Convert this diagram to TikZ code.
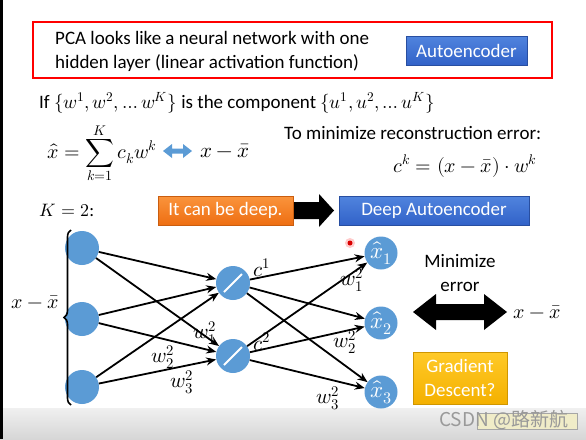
\documentclass[tikz,border=0pt]{standalone}
\usepackage{fontspec}
\usepackage{unicode-math}
\setmainfont{Carlito}
\setmathfont{Latin Modern Math}
\newfontfamily\cjk{Noto Sans CJK SC}
\usetikzlibrary{arrows.meta,decorations.pathreplacing}
\definecolor{nblue}{RGB}{91,155,213}
\definecolor{bxtop}{RGB}{80,132,222}
\definecolor{bxbot}{RGB}{50,98,200}
\definecolor{ortop}{RGB}{250,148,60}
\definecolor{orbot}{RGB}{238,110,18}
\definecolor{gdtop}{RGB}{255,202,40}
\definecolor{gdbot}{RGB}{244,176,0}
\newcommand\mmath[1]{{\fontsize{19}{22}\selectfont$#1$}}
\tikzset{
  txt/.style={inner sep=0pt, font=\fontsize{19}{24}\selectfont},
  mth/.style={inner sep=0pt, font=\fontsize{20}{22}\selectfont},
  wlab/.style={inner sep=0pt, font=\fontsize{21}{22}\selectfont},
  neuron/.style={circle, fill=nblue, minimum size=34pt, inner sep=0pt},
  outneuron/.style={circle, fill=nblue, minimum size=33pt, inner sep=0pt, text=white, font=\fontsize{23}{24}\selectfont},
  edge/.style={line width=1.8pt, -{Stealth[length=10pt,width=8pt]}},
  bluebox/.style={top color=bxtop, bottom color=bxbot, draw=bxbot!80!black, line width=0.4pt, text=white, inner sep=0pt, font=\fontsize{19}{20}\selectfont},
  orangebox/.style={top color=ortop, bottom color=orbot, draw=orbot!85!black, line width=0.4pt, text=white, inner sep=0pt, font=\fontsize{19}{20}\selectfont},
  goldbox/.style={top color=gdtop, bottom color=gdbot, draw=gdbot!85!black, line width=0.4pt, text=white, inner sep=0pt, align=center, font=\fontsize{19}{24}\selectfont},
  slash/.style={white, line width=1.8pt},
}
\begin{document}
\begin{tikzpicture}[x=1pt,y=-1pt]
\useasboundingbox (0,0) rectangle (586,439);
\fill[white] (0,0) rectangle (586,439);
% bottom gray band and left edge
\shade[top color=black!6, bottom color=black!16] (0,408) rectangle (586,439);
\fill[black] (0,0) rectangle (2.5,439);

% header box
\draw[red, line width=2.2pt] (33,22) rectangle (552,78);
\node[txt, anchor=west, align=left] (pca) at (55,51) {PCA looks like a neural network with one\\hidden layer (linear activation function)};
\node[bluebox, minimum width=121pt, minimum height=29pt] (ae) at (466.5,50.5) {Autoencoder};

% formulas
\node[txt, anchor=west] (ifline) at (39,103) {If \mmath{\{w^1,w^2,\dots w^K\}} is the component \mmath{\{u^1,u^2,\dots u^K\}}};
\node[inner sep=0pt, font=\fontsize{20}{22}\selectfont, anchor=west] (sum) at (47,153) {$\displaystyle \hat{x}=\sum_{k=1}^{K} c_k w^k$};
\fill[nblue] (163,151) -- (172,144) -- (172,148.5) -- (183,148.5) -- (183,144) -- (192,151) -- (183,158) -- (183,153.5) -- (172,153.5) -- (172,158) -- cycle;
\node[mth, anchor=west, font=\fontsize{21}{22}\selectfont] (xm1) at (200,151) {$x-\bar{x}$};
\node[txt, anchor=west] (tomin) at (284,133) {To minimize reconstruction error:};
\node[mth, anchor=west] (ck) at (393,166) {$c^k=(x-\bar{x})\cdot w^k$};

% K=2 row
\node[mth, font=\fontsize{18}{20}\selectfont] (k2) at (67,210) {$K=2$:};
\node[orangebox, minimum width=135pt, minimum height=29pt] (deep) at (225.5,210.5) {It can be deep.};
\fill[black] (294,202) -- (319,202) -- (319,194) -- (334,210.5) -- (319,227) -- (319,219) -- (294,219) -- cycle;
\node[bluebox, minimum width=190pt, minimum height=29pt] (dae) at (434,210.5) {Deep Autoencoder};

% network nodes
\node[neuron] (i1) at (82,248) {};
\node[neuron] (i2) at (82,319) {};
\node[neuron] (i3) at (82,387) {};
\node[neuron] (h1) at (233,283) {};
\node[neuron] (h2) at (233,356) {};
\node[outneuron] (o1) at (381,253) {$\hat{x}_1$};
\node[outneuron] (o2) at (381,323) {$\hat{x}_2$};
\node[outneuron] (o3) at (381,392) {$\hat{x}_3$};
\draw[slash] ([shift={(-9,9)}]h1.center) -- ([shift={(9,-9)}]h1.center);
\draw[slash] ([shift={(-9,9)}]h2.center) -- ([shift={(9,-9)}]h2.center);

% brace and input label
\draw[decorate, decoration={brace, amplitude=7pt}, line width=1.6pt] (71,405) -- (71,230);
\node[mth] (xin) at (35,302) {$x-\bar{x}$};

% edges
\foreach \a in {i1,i2,i3} {\foreach \b in {h1,h2} {\draw[edge] (\a) -- (\b);}}
\foreach \a in {h1,h2} {\foreach \b in {o1,o2,o3} {\draw[edge] (\a) -- (\b);}}

% weight labels
\node[wlab] (c1) at (262,268) {$c^1$};
\node[wlab] (c2) at (262,342) {$c^2$};
\node[wlab] (wa) at (205,333) {$w_1^2$};
\node[wlab] (wb) at (163,357) {$w_2^2$};
\node[wlab] (wc) at (182,382) {$w_3^2$};
\node[wlab] (wd) at (352,280) {$w_1^2$};
\node[wlab] (we) at (345,342) {$w_2^2$};
\node[wlab] (wf) at (328,398) {$w_3^2$};

% right side
\node[txt, align=center] (minerr) at (460,273) {Minimize\\error};
\fill[black] (413,312) -- (436,294) -- (436,304) -- (484,304) -- (484,294) -- (507,312) -- (484,330) -- (484,320) -- (436,320) -- (436,330) -- cycle;
\node[mth] (xout) at (537,312) {$x-\bar{x}$};
\node[goldbox, minimum width=94pt, minimum height=52pt] (gd) at (460,378) {Gradient\\Descent?};

% pointer dot
\fill[red!20] (350,243) circle (5);
\fill[red!85!black] (350,243) circle (2.5);

% watermark
\draw[fill={rgb,255:red,240;green,236;blue,200}, draw=black!35] (477,413) rectangle (577,429);
\node[anchor=west, inner sep=0pt, text=black!40, font=\fontsize{19}{20}\selectfont\cjk] (wm) at (439,420) {CSDN @路新航};
\end{tikzpicture}
\end{document}
